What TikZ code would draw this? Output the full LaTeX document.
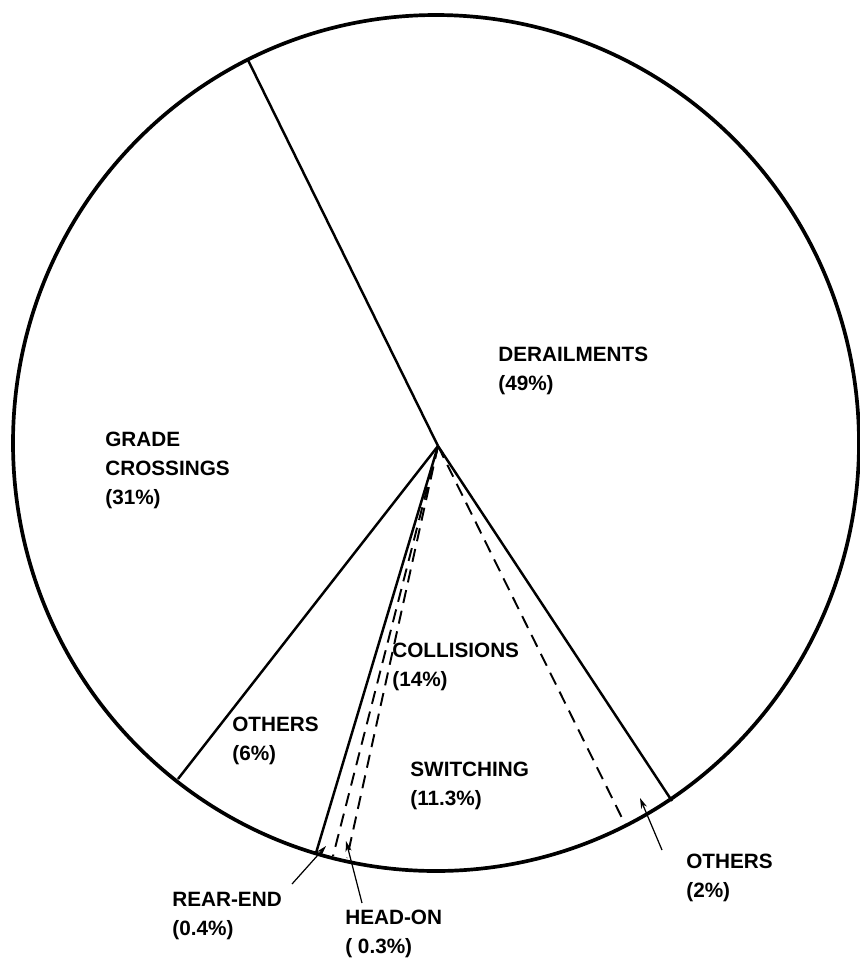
\documentclass[tikz,border=0pt]{standalone}
\usepackage{fontspec}
\setmainfont{Liberation Sans}
\usepackage{tikz}
\usetikzlibrary{arrows.meta, positioning}

\tikzset{
  rim/.style={line width=2.1pt},
  spoke/.style={line width=1.4pt},
  subspoke/.style={line width=1.1pt, dash pattern=on 7.5pt off 4.5pt},
  pointer/.style={line width=0.7pt, -{Stealth[length=6pt, width=3.5pt]}},
  slicelabel/.style={font=\bfseries\fontsize{11.8}{16.3}\selectfont, align=left, anchor=north west, inner sep=0pt}
}

\begin{document}
\begin{tikzpicture}[x=0.02cm, y=-0.02cm]
        \useasboundingbox (0,0) rectangle (860,965);

        % Pie outline
        \draw[rim] (436,443) ellipse [x radius=423, y radius=428];

        % Centre and rim points
        \coordinate (ctr) at (438,446);
        \coordinate (rimtop) at (248,60);
        \coordinate (rimgrade) at (178,779);
        \coordinate (rimcoll) at (316,853);
        \coordinate (rimrear) at (333,856);
        \coordinate (rimhead) at (347,858);
        \coordinate (rimothr) at (625,824);
        \coordinate (rimderail) at (672,801);

        % Main slices
        \draw[spoke] (ctr) -- (rimtop);
        \draw[spoke] (ctr) -- (rimgrade);
        \draw[spoke] (ctr) -- (rimcoll);
        \draw[spoke] (ctr) -- (rimderail);

        % Collision sub-slices
        \draw[subspoke] (ctr) -- (rimrear);
        \draw[subspoke] (ctr) -- (rimhead);
        \draw[subspoke] (ctr) -- (rimothr);

        % Labels
        \node[slicelabel] (derail) at (498,347) {DERAILMENTS\\(49\%)};
        \node[slicelabel] (grade) at (105,432) {GRADE\\CROSSINGS\\(31\%)};
        \node[slicelabel] (coll) at (392,643) {COLLISIONS\\(14\%)};
        \node[slicelabel] (othr6) at (232,717) {OTHERS\\(6\%)};
        \node[slicelabel] (switch) at (410,762) {SWITCHING\\(11.3\%)};
        \node[slicelabel] (othr2) at (686,854) {OTHERS\\(2\%)};
        \node[slicelabel] (rear) at (172,892) {REAR-END\\(0.4\%)};
        \node[slicelabel] (head) at (345,910) {HEAD-ON\\( 0.3\%)};

        % Pointers
        \coordinate (othr2tail) at (662,850);
        \coordinate (othr2tip) at (640,798);
        \coordinate (reartail) at (292,884);
        \coordinate (reartip) at (326,846);
        \coordinate (headtail) at (362,903);
        \coordinate (headtip) at (346,841);
        \draw[pointer] (othr2tail) -- (othr2tip);
        \draw[pointer] (reartail) -- (reartip);
        \draw[pointer] (headtail) -- (headtip);
    \end{tikzpicture}
\end{document}
